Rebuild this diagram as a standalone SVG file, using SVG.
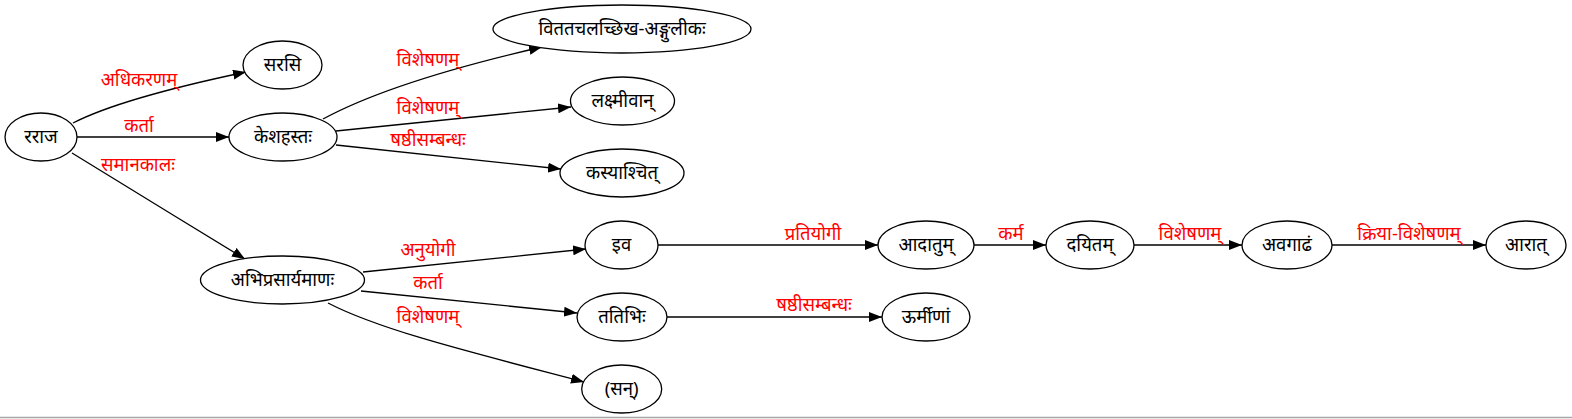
<svg xmlns="http://www.w3.org/2000/svg" width="1572" height="419" viewBox="0 0 1572 419">
<style>
.n ellipse{fill:#fff;stroke:#000;stroke-width:1.3}
.n text{font-family:"Noto Sans",sans-serif;font-size:18.5px;fill:#000;text-anchor:middle}
.e path{fill:none;stroke:#000;stroke-width:1.3;marker-end:url(#ah)}
.l{font-family:"Noto Sans",sans-serif;font-size:18.5px;fill:#ff0000;text-anchor:middle}
</style>
<defs>
<marker id="ah" viewBox="0 0 13 10" refX="13" refY="5" markerWidth="13" markerHeight="10" markerUnits="userSpaceOnUse" orient="auto">
<path d="M0,0 L13,5 L0,10 z" fill="#000"/>
</marker>
</defs>
<rect x="0" y="0" width="1572" height="419" fill="#fff"/>
<g id="connectors" class="e">
<path d="M73,123 C110,104 170,88 246,72"/>
<path d="M77,137 L229,137"/>
<path d="M72,153 C120,183 190,225 245,259"/>
<path d="M323,119 C360,99 420,75 542,47"/>
<path d="M336,131 L571,107"/>
<path d="M336,145 L561,169"/>
<path d="M363,272 L586,249"/>
<path d="M361,291 L577,313"/>
<path d="M328,303 C380,330 470,352 584,382"/>
<path d="M658,245 L878,245"/>
<path d="M974,245 L1046,245"/>
<path d="M1134,245 L1242,245"/>
<path d="M1332,245 L1486,245"/>
<path d="M667,317 L882,317"/>
</g>
<g id="edge-labels">
<text class="l" x="139" y="86">अधिकरणम्</text>
<text class="l" x="139" y="132">कर्ता</text>
<text class="l" x="138" y="171">समानकालः</text>
<text class="l" x="428" y="66">विशेषणम्</text>
<text class="l" x="428" y="114">विशेषणम्</text>
<text class="l" x="428" y="146">षष्ठीसम्बन्धः</text>
<text class="l" x="428" y="256">अनुयोगी</text>
<text class="l" x="428" y="289">कर्ता</text>
<text class="l" x="428" y="323">विशेषणम्</text>
<text class="l" x="813" y="240">प्रतियोगी</text>
<text class="l" x="1011" y="240">कर्म</text>
<text class="l" x="1190" y="240">विशेषणम्</text>
<text class="l" x="1409" y="240">क्रिया-विशेषणम्</text>
<text class="l" x="814" y="311">षष्ठीसम्बन्धः</text>
</g>
<g id="n-raraja" class="n"><ellipse cx="41" cy="137" rx="36" ry="24"/><text x="41" y="143">रराज</text></g>
<g id="n-sarasi" class="n"><ellipse cx="282.5" cy="65" rx="39.5" ry="24"/><text x="282.5" y="71">सरसि</text></g>
<g id="n-keshahastah" class="n"><ellipse cx="283" cy="137" rx="54" ry="24"/><text x="283" y="143">केशहस्तः</text></g>
<g id="n-abhiprasaryamanah" class="n"><ellipse cx="282.5" cy="280" rx="82" ry="24"/><text x="282.5" y="286">अभिप्रसार्यमाणः</text></g>
<g id="n-vitata" class="n"><ellipse cx="622" cy="29" rx="129" ry="24"/><text x="622" y="35">विततचलच्छिख-अङ्गुलीकः</text></g>
<g id="n-lakshmivan" class="n"><ellipse cx="622.5" cy="101" rx="52" ry="24"/><text x="622.5" y="107">लक्ष्मीवान्</text></g>
<g id="n-kasyashchit" class="n"><ellipse cx="622" cy="173" rx="62" ry="24"/><text x="622" y="179">कस्याश्चित्</text></g>
<g id="n-iva" class="n"><ellipse cx="621.5" cy="245" rx="36.5" ry="24"/><text x="621.5" y="251">इव</text></g>
<g id="n-tatibhih" class="n"><ellipse cx="622" cy="317" rx="45" ry="24"/><text x="622" y="323">ततिभिः</text></g>
<g id="n-san" class="n"><ellipse cx="621.7" cy="389" rx="40" ry="24"/><text x="621.7" y="395">(सन्)</text></g>
<g id="n-adatum" class="n"><ellipse cx="926" cy="245" rx="48" ry="24"/><text x="926" y="251">आदातुम्</text></g>
<g id="n-urminam" class="n"><ellipse cx="926" cy="317" rx="44" ry="24"/><text x="926" y="323">ऊर्मीणां</text></g>
<g id="n-dayitam" class="n"><ellipse cx="1090" cy="245" rx="44" ry="24"/><text x="1090" y="251">दयितम्</text></g>
<g id="n-avagadham" class="n"><ellipse cx="1287" cy="245" rx="45" ry="24"/><text x="1287" y="251">अवगाढं</text></g>
<g id="n-arat" class="n"><ellipse cx="1526" cy="245" rx="40" ry="24"/><text x="1526" y="251">आरात्</text></g>
<line x1="0" y1="417.5" x2="1572" y2="417.5" stroke="#a6a6a6" stroke-width="1.5"/>
</svg>
